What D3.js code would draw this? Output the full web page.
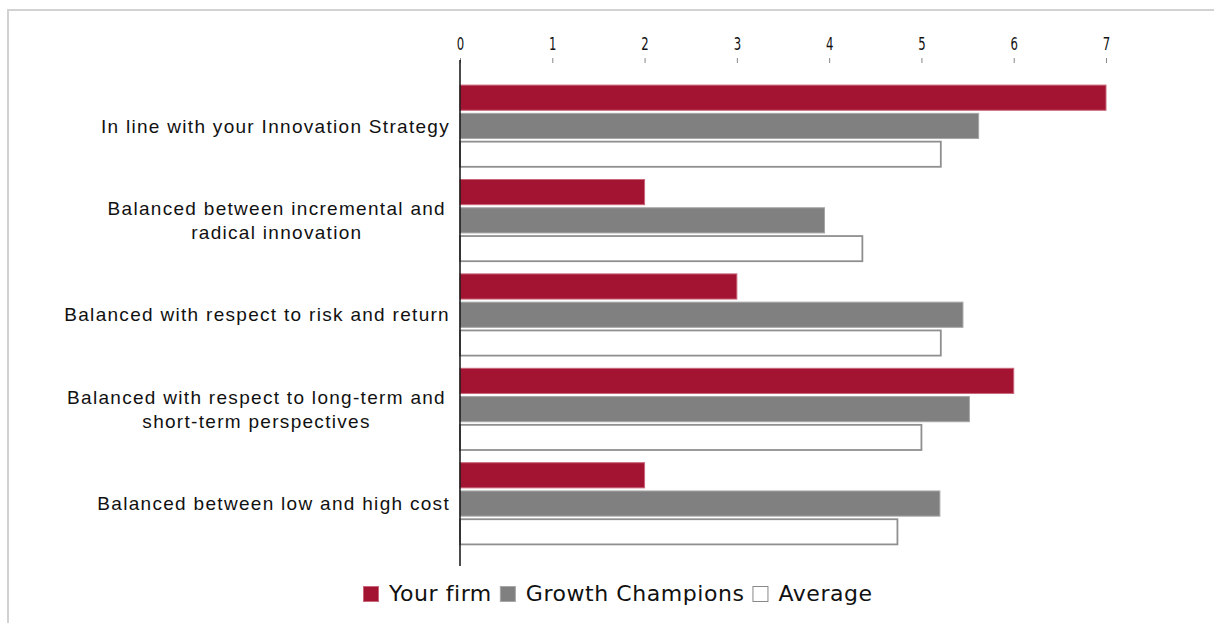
<!DOCTYPE html>
<html><head><meta charset="utf-8">
<script src="https://cdn.jsdelivr.net/npm/d3@7"></script>
<style>body{margin:0;background:#fff;}svg{display:block;}</style>
</head><body>
<svg id="c" width="1214" height="623"></svg>
<script>
const categories = [
  ["In line with your Innovation Strategy"],
  ["Balanced between incremental and", "radical innovation"],
  ["Balanced with respect to risk and return"],
  ["Balanced with respect to long-term and", "short-term perspectives"],
  ["Balanced between low and high cost"]
];
const seriesNames = ["Your firm", "Growth Champions", "Average"];
const yourFirm = [7, 2, 3, 6, 2];
const growthChampions = [5.62, 3.95, 5.45, 5.52, 5.2];
const average = [5.21, 4.36, 5.21, 5.0, 4.74];
const tickValues = [0, 1, 2, 3, 4, 5, 6, 7];
const colors = ["#a31432", "#808080", "#ffffff"];
const strokes = ["#c9667a", "#a6a6a6", "#8f8f8f"];

const svg = d3.select("#c");
// frame
svg.append("path").attr("d", "M8,623 L8,10 L1214,10").attr("fill", "none")
  .attr("stroke", "#d2d2d2").attr("stroke-width", 2);

const x = d3.scaleLinear().domain([0, 7]).range([460, 1106]);
const catIdx = categories.map((d, i) => i);
const y = d3.scaleBand().domain(catIdx).range([78.8, 550.8]).paddingInner(0).paddingOuter(0);
const sub = d3.scaleBand().domain([0, 1, 2]).range([6.3, 88]).paddingInner(0.11);
const values = [yourFirm, growthChampions, average];

const g = svg.append("g");
categories.forEach((c, i) => {
  values.forEach((arr, s) => {
    g.append("rect")
      .attr("x", x(0))
      .attr("y", y(i) + sub(s))
      .attr("width", x(arr[i]) - x(0))
      .attr("height", sub.bandwidth())
      .attr("fill", colors[s])
      .attr("stroke", strokes[s])
      .attr("stroke-width", s === 2 ? 1.8 : 1);
  });
});

// category labels
categories.forEach((lines, i) => {
  const cy = y(i) + y.bandwidth() / 2;
  const lh = 24;
  const t = svg.append("text").attr("font-family", "Liberation Sans, Arial, sans-serif")
    .attr("font-size", 19).attr("letter-spacing", 1.3).attr("fill", "#111");
  lines.forEach((ln, k) => {
    t.append("tspan").attr("x", 0).attr("y", cy + (k - (lines.length - 1) / 2) * lh + 6.5)
      .attr("text-anchor", "middle").text(ln);
  });
  const widths = [];
  t.selectAll("tspan").each(function () { widths.push(this.getComputedTextLength()); });
  const maxW = d3.max(widths);
  const right = lines.length > 1 ? 446 : 450;
  t.selectAll("tspan").attr("x", right - maxW / 2);
});

// top axis
const axis = d3.axisTop(x).tickValues(tickValues).tickSize(5).tickPadding(8).tickFormat(d3.format("d"));
const ag = svg.append("g").attr("transform", "translate(0,63)").call(axis);
ag.select(".domain").remove();
ag.selectAll(".tick line").attr("stroke", "#888");
ag.selectAll(".tick text").attr("font-family", "DejaVu Sans Condensed, DejaVu Sans, sans-serif")
  .attr("font-size", 18).attr("fill", "#111").attr("transform", "scale(0.72,1)");

// vertical axis line
svg.append("line").attr("x1", x(0)).attr("x2", x(0)).attr("y1", 60).attr("y2", 566)
  .attr("stroke", "#111").attr("stroke-width", 1.5);

// legend
const lg = svg.append("g");
let cx = 363;
seriesNames.forEach((n, s) => {
  lg.append("rect").attr("x", cx + 0.5).attr("y", 586.5).attr("width", 15).attr("height", 15)
    .attr("fill", colors[s]).attr("stroke", s === 2 ? "#888" : strokes[s]).attr("stroke-width", 1);
  const t = lg.append("text").attr("x", cx + 26).attr("y", 601)
    .attr("font-family", "DejaVu Sans, Verdana, sans-serif").attr("font-size", 22)
    .attr("letter-spacing", 0.55).attr("fill", "#111").text(n);
  cx += 26 + t.node().getComputedTextLength() + 8;
});
</script>
</body></html>
